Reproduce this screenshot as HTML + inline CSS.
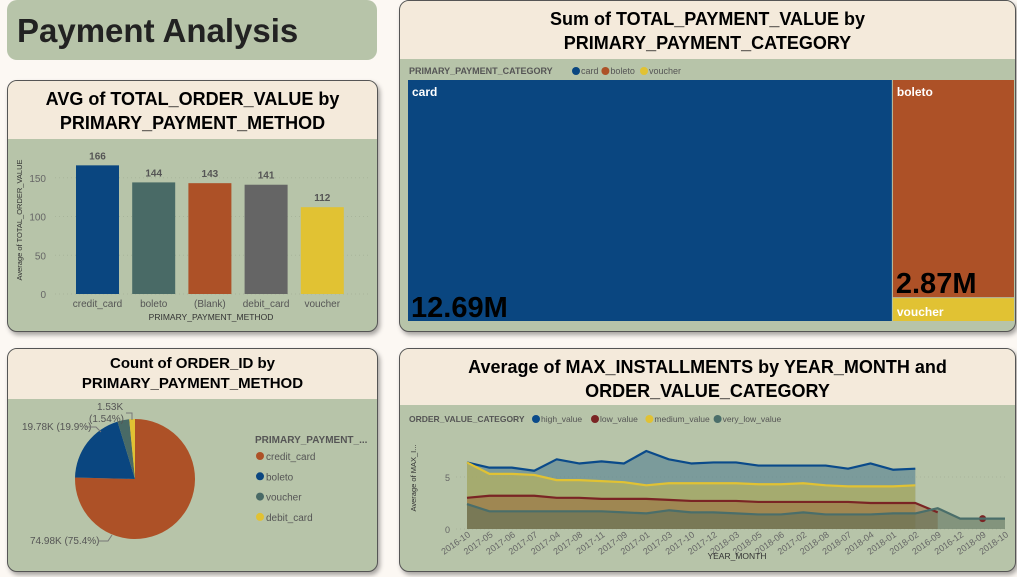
<!DOCTYPE html>
<html><head><meta charset="utf-8"><style>
body{margin:0;width:1017px;height:577px;background:#fcf8f3;font-family:"Liberation Sans",sans-serif;overflow:hidden;position:relative}
.card{position:absolute;background:#b7c4a9;border:1px solid #555;border-radius:10px;box-shadow:2px 3px 5px rgba(0,0,0,.35);overflow:hidden}
.hdr{background:#f4eadb;text-align:center;font-weight:bold;color:#000;font-size:18px;line-height:24px;padding-top:6px;box-sizing:border-box}
svg{position:absolute;left:0;top:0}
svg text{font-family:"Liberation Sans",sans-serif}
</style></head><body>
<div style="position:absolute;left:7px;top:0;width:370px;height:60px;background:#b7c4a9;border-radius:10px">
<div style="position:absolute;left:10px;top:12px;font-size:33px;font-weight:bold;color:#222">Payment Analysis</div></div>

<div class="card" style="left:7px;top:80px;width:369px;height:250px">
<div class="hdr" style="height:58px">AVG of TOTAL_ORDER_VALUE by<br>PRIMARY_PAYMENT_METHOD</div></div>

<div class="card" style="left:399px;top:0;width:615px;height:330px">
<div class="hdr" style="height:58px">Sum of TOTAL_PAYMENT_VALUE by<br>PRIMARY_PAYMENT_CATEGORY</div></div>

<div class="card" style="left:7px;top:348px;width:369px;height:222px">
<div class="hdr" style="height:50px;font-size:15px;line-height:20px;padding-top:5px">Count of ORDER_ID by<br>PRIMARY_PAYMENT_METHOD</div></div>

<div class="card" style="left:399px;top:348px;width:615px;height:222px">
<div class="hdr" style="height:56px;font-size:18px">Average of MAX_INSTALLMENTS by YEAR_MONTH and<br>ORDER_VALUE_CATEGORY</div></div>

<svg id="s" width="1017" height="577"></svg>
<script>
// Bar chart data
const barCats=["credit_card","boleto","(Blank)","debit_card","voucher"];
const barVals=[166,144,143,141,112];
const barTicks=[0,50,100,150];
// Treemap data
const tmCats=["card","boleto","voucher"];
const tmVals=[12.69,2.87,0.30];
const tmLabels=["12.69M","2.87M",""];
// Pie data
const pieCats=["credit_card","boleto","voucher","debit_card"];
const pieVals=[74.98,19.78,3.14,1.53];
const pieLabels=["74.98K (75.4%)","19.78K (19.9%)","","1.53K (1.54%)"];
// Line chart data
const months=["2016-10","2017-05","2017-06","2017-07","2017-04","2017-08","2017-11","2017-09","2017-01","2017-03","2017-10","2017-12","2018-03","2018-05","2018-06","2017-02","2018-08","2018-07","2018-04","2018-01","2018-02","2016-09","2016-12","2018-09","2018-10"];
const highVals=[6.4,5.9,5.9,5.6,6.7,6.3,6.5,6.3,7.5,6.7,6.3,6.4,6.4,6.1,6.1,6.1,6.1,5.8,6.3,5.7,5.8,null,null,null,null];
const mediumVals=[6.4,5.3,5.3,5.2,4.7,4.7,4.6,4.5,4.2,4.4,4.4,4.4,4.4,4.3,4.3,4.4,4.2,4.1,4.1,4.1,4.2,null,null,null,null];
const lowVals=[3.0,3.2,3.2,3.2,3.0,3.0,2.9,2.9,2.9,2.8,2.7,2.7,2.7,2.6,2.6,2.6,2.6,2.6,2.5,2.5,2.5,1.6,null,1.0,null];
const veryLowVals=[2.4,1.7,1.7,1.7,1.7,1.7,1.7,1.6,1.5,1.8,1.6,1.6,1.5,1.4,1.4,1.6,1.4,1.4,1.4,1.5,1.5,2.0,1.0,1.0,1.0];
const lineTicks=[0,5];

const S=document.getElementById('s'),NS="http://www.w3.org/2000/svg";
function mk(t,a,txt){const e=document.createElementNS(NS,t);for(const k in a)e.setAttribute(k,a[k]);if(txt!==undefined)e.textContent=txt;S.appendChild(e);return e;}

// ---- bar chart
const bY=v=>294-v*0.775, bX0=76, bStep=56.2, bW=43;
barTicks.forEach(t=>{const g=mk('line',{x1:55,x2:368,y1:bY(t),y2:bY(t),stroke:'#a8b59b','stroke-dasharray':'1 3'});
const l=mk('text',{x:46,y:bY(t)+4,'text-anchor':'end','font-size':10,fill:'#666'},t);});
const barCols=["#0a4680","#496a66","#ad5127","#656565","#e1c233"];
barCats.forEach((c,i)=>{const x=bX0+i*bStep;
const r=mk('rect',{x:x,y:bY(barVals[i]),width:bW,height:bY(0)-bY(barVals[i]),fill:barCols[i]});
const v=mk('text',{x:x+bW/2,y:bY(barVals[i])-6,'text-anchor':'middle','font-size':10,'font-weight':'bold',fill:'#555'},barVals[i]);
const l=mk('text',{x:x+bW/2,y:307,'text-anchor':'middle','font-size':10,fill:'#555'},c);});
let t=mk('text',{x:211,y:320,'text-anchor':'middle','font-size':8.5,fill:'#333'},'PRIMARY_PAYMENT_METHOD');
t=mk('text',{x:0,y:0,transform:'translate(22,220) rotate(-90)','text-anchor':'middle','font-size':7.5,fill:'#333'},'Average of TOTAL_ORDER_VALUE');

// ---- treemap
const tmCols=["#0a4680","#ad5127","#e1c233"];
t=mk('text',{x:409,y:74,'font-size':9,'font-weight':'bold',fill:'#555'},'PRIMARY_PAYMENT_CATEGORY');
let lx=572;tmCats.forEach((c,i)=>{const d=mk('circle',{cx:lx+4,cy:71,r:4,fill:tmCols[i]});
const l=mk('text',{x:lx+9,y:74,'font-size':9,fill:'#555'},c);lx+=9+c.length*4.6+2;});
const TX=408,TY=80,TW=606,TH=241,tot=tmVals.reduce((a,b)=>a+b,0);
const cw=TW*tmVals[0]/tot, restW=TW-cw, rest=tmVals[1]+tmVals[2];
const rects=[[TX,TY,cw-1,TH],[TX+cw,TY,restW,TH*tmVals[1]/rest-1],[TX+cw,TY+TH*tmVals[1]/rest,restW,TH*tmVals[2]/rest]];
rects.forEach((r,i)=>{const e=mk('rect',{x:r[0],y:r[1],width:r[2],height:r[3],fill:tmCols[i]});
const n=mk('text',{x:r[0]+4,y:r[1]+(i==2?r[3]-5:16),'font-size':12,'font-weight':'bold',fill:'#fff'},tmCats[i]);
if(tmLabels[i]){const v=mk('text',{x:r[0]+3,y:r[1]+r[3]-4,'font-size':29,'font-weight':'bold',fill:'#000'},tmLabels[i]);}});

// ---- pie
const pcx=135,pcy=479,pr=60,pieCols=["#ad5127","#0a4680","#496a66","#e1c233"];
const ptot=pieVals.reduce((a,b)=>a+b,0);let ang=0;
pieVals.forEach((v,i)=>{const a0=ang,a1=ang+v/ptot*2*Math.PI;ang=a1;
const p=(a)=>[pcx+pr*Math.sin(a),pcy-pr*Math.cos(a)];const s=p(a0),e=p(a1);
const path=mk('path',{d:`M${pcx},${pcy}L${s[0]},${s[1]}A${pr},${pr} 0 ${a1-a0>Math.PI?1:0} 1 ${e[0]},${e[1]}Z`,fill:pieCols[i]});});
t=mk('text',{x:30,y:544,'font-size':10,fill:'#555'},pieLabels[0]);
mk('polyline',{points:'98,541 108,541 112,535',fill:'none',stroke:'#777'});
t=mk('text',{x:22,y:430,'font-size':10,fill:'#555'},pieLabels[1]);
mk('polyline',{points:'86,427 96,427 101,432',fill:'none',stroke:'#777'});
t=mk('text',{x:97,y:410,'font-size':10,fill:'#555'},'1.53K');
t=mk('text',{x:89,y:422,'font-size':10,fill:'#555'},'(1.54%)');
mk('polyline',{points:'126,413 132,413 132,420',fill:'none',stroke:'#777'});
t=mk('text',{x:255,y:443,'font-size':10,'font-weight':'bold',fill:'#555'},'PRIMARY_PAYMENT_...');
pieCats.forEach((c,i)=>{const y=456+i*20.3;const d=mk('circle',{cx:260,cy:y,r:4,fill:pieCols[i]});
const l=mk('text',{x:266,y:y+4,'font-size':10,fill:'#555'},c);});

// ---- line chart
const lX=i=>467+i*(1005-467)/(months.length-1), lY=v=>529-v*10.4;
t=mk('text',{x:409,y:422,'font-size':8.5,'font-weight':'bold',fill:'#555'},'ORDER_VALUE_CATEGORY');
const series=[["high_value",highVals,"#0a4a8a","#4a7a8f"],["low_value",lowVals,"#7a2424","#9a6a3a"],["medium_value",mediumVals,"#e1c233","#c8b84a"],["very_low_value",veryLowVals,"#4a6e6a","#5a6e5a"]];
lx=532;series.forEach(s=>{const d=mk('circle',{cx:lx+4,cy:419,r:4,fill:s[2]});
const l=mk('text',{x:lx+9,y:422,'font-size':8.5,fill:'#555'},s[0]);lx+=9+s[0].length*4.6+4;});
lineTicks.forEach(tk=>{const l=mk('text',{x:450,y:lY(tk)+4,'text-anchor':'end','font-size':9,fill:'#666'},tk);
const g=mk('line',{x1:456,x2:1008,y1:lY(tk),y2:lY(tk),stroke:'#a8b59b','stroke-dasharray':'1 3'});});
function segs(vals){const out=[];let cur=[];vals.forEach((v,i)=>{if(v==null){if(cur.length)out.push(cur);cur=[];}else cur.push([lX(i),lY(v)]);});if(cur.length)out.push(cur);return out;}
const order=[0,2,1,3];
order.forEach(k=>{const s=series[k];segs(s[1]).forEach(sg=>{if(sg.length<2)return;
const a=mk('path',{d:'M'+sg[0][0]+','+lY(0)+'L'+sg.map(p=>p.join(',')).join('L')+'L'+sg[sg.length-1][0]+','+lY(0)+'Z',fill:s[3],'fill-opacity':0.55});});});
order.forEach(k=>{const s=series[k];segs(s[1]).forEach(sg=>{if(sg.length<2){const d=mk('circle',{cx:sg[0][0],cy:sg[0][1],r:3.5,fill:s[2]});return;}
const l=mk('polyline',{points:sg.map(p=>p.join(',')).join(' '),fill:'none',stroke:s[2],'stroke-width':2.2,'stroke-linejoin':'round'});});});
months.forEach((m,i)=>{const l=mk('text',{x:0,y:0,transform:`translate(${lX(i)+4},${536}) rotate(-35)`,'text-anchor':'end','font-size':9,fill:'#666'},m);});
t=mk('text',{x:737,y:559,'text-anchor':'middle','font-size':8.5,fill:'#333'},'YEAR_MONTH');
t=mk('text',{x:0,y:0,transform:'translate(416,478) rotate(-90)','text-anchor':'middle','font-size':7.5,fill:'#333'},'Average of MAX_I...');
</script>
</body></html>
